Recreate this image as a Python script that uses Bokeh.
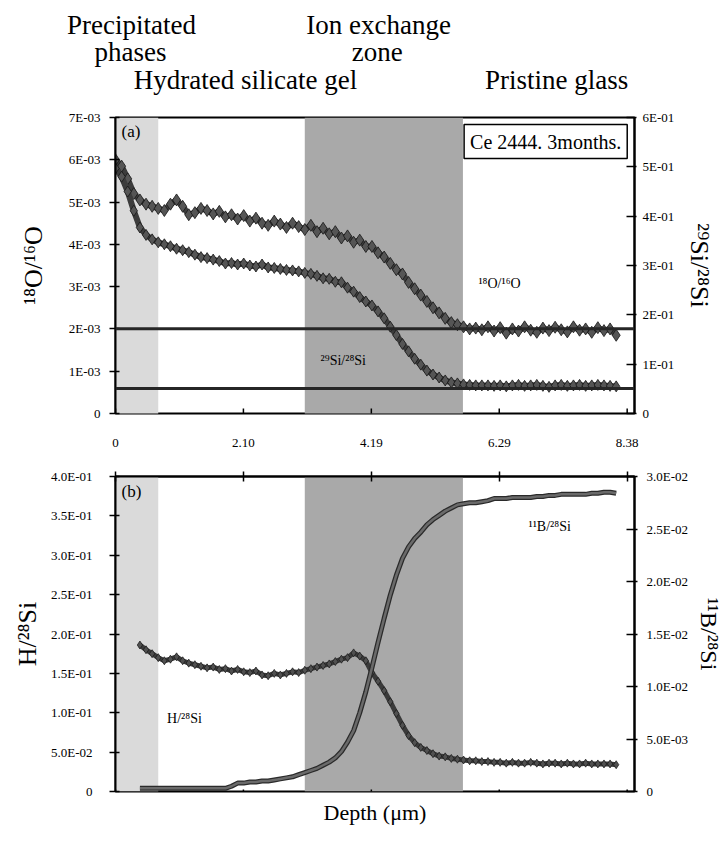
from bokeh.plotting import figure
from bokeh.layouts import column
from bokeh.models import (Range1d, LinearAxis, FixedTicker, BoxAnnotation, Span,
                          Label, ColumnDataSource, Whisker, Title)
from bokeh.core.properties import value
from bokeh.embed import file_html
from bokeh.resources import INLINE

SERIF = "Liberation Serif"

# ---------------- data ----------------
depth_a = [0.0, 0.1, 0.2, 0.3, 0.4, 0.5, 0.6, 0.7, 0.8, 0.9,
           1.0, 1.1, 1.2, 1.3, 1.4, 1.5, 1.6, 1.7, 1.8, 1.9,
           2.0, 2.1, 2.2, 2.3, 2.4, 2.5, 2.6, 2.7, 2.8, 2.9,
           3.0, 3.1, 3.2, 3.3, 3.4, 3.5, 3.6, 3.7, 3.8, 3.9,
           4.0, 4.1, 4.2, 4.3, 4.4, 4.5, 4.6, 4.7, 4.8, 4.9,
           5.0, 5.1, 5.2, 5.3, 5.4, 5.5, 5.6, 5.7, 5.8, 5.9,
           6.0, 6.1, 6.2, 6.3, 6.4, 6.5, 6.6, 6.7, 6.8, 6.9,
           7.0, 7.1, 7.2, 7.3, 7.4, 7.5, 7.6, 7.7, 7.8, 7.9,
           8.0, 8.1, 8.2]

o18_ratio = [6.00e-3, 5.85e-3, 5.55e-3, 5.20e-3, 5.05e-3, 4.95e-3, 4.90e-3, 4.85e-3, 4.80e-3, 4.95e-3,
             5.05e-3, 4.90e-3, 4.70e-3, 4.75e-3, 4.85e-3, 4.80e-3, 4.72e-3, 4.78e-3, 4.65e-3, 4.70e-3,
             4.60e-3, 4.68e-3, 4.55e-3, 4.62e-3, 4.50e-3, 4.45e-3, 4.55e-3, 4.48e-3, 4.40e-3, 4.50e-3,
             4.42e-3, 4.35e-3, 4.45e-3, 4.30e-3, 4.38e-3, 4.25e-3, 4.30e-3, 4.15e-3, 4.20e-3, 4.05e-3,
             4.10e-3, 3.95e-3, 3.95e-3, 3.80e-3, 3.70e-3, 3.55e-3, 3.40e-3, 3.30e-3, 3.10e-3, 2.95e-3,
             2.80e-3, 2.65e-3, 2.50e-3, 2.38e-3, 2.25e-3, 2.15e-3, 2.10e-3, 2.05e-3, 2.00e-3, 2.02e-3,
             1.98e-3, 2.05e-3, 1.95e-3, 2.03e-3, 1.90e-3, 2.00e-3, 1.95e-3, 2.05e-3, 1.97e-3, 1.92e-3,
             2.02e-3, 1.96e-3, 2.04e-3, 1.98e-3, 1.93e-3, 2.05e-3, 1.97e-3, 2.00e-3, 1.92e-3, 2.03e-3,
             1.96e-3, 2.00e-3, 1.85e-3]

si29_ratio = [0.497, 0.480, 0.450, 0.411, 0.377, 0.362, 0.353, 0.347, 0.343, 0.339,
              0.334, 0.331, 0.327, 0.322, 0.317, 0.315, 0.312, 0.309, 0.304, 0.305,
              0.302, 0.304, 0.300, 0.298, 0.302, 0.296, 0.295, 0.293, 0.291, 0.290,
              0.288, 0.285, 0.283, 0.279, 0.274, 0.273, 0.267, 0.266, 0.255, 0.247,
              0.236, 0.227, 0.219, 0.207, 0.193, 0.176, 0.159, 0.141, 0.126, 0.111,
              0.099, 0.087, 0.079, 0.073, 0.067, 0.063, 0.061, 0.059, 0.058, 0.057,
              0.057, 0.057, 0.056, 0.057, 0.055, 0.057, 0.058, 0.056, 0.057, 0.058,
              0.056, 0.054, 0.057, 0.058, 0.056, 0.057, 0.058, 0.056, 0.057, 0.058,
              0.057, 0.056, 0.055]

depth_b = [0.4, 0.5, 0.6, 0.7, 0.8, 0.9,
           1.0, 1.1, 1.2, 1.3, 1.4, 1.5, 1.6, 1.7, 1.8, 1.9,
           2.0, 2.1, 2.2, 2.3, 2.4, 2.5, 2.6, 2.7, 2.8, 2.9,
           3.0, 3.1, 3.2, 3.3, 3.4, 3.5, 3.6, 3.7, 3.8, 3.9,
           4.0, 4.1, 4.2, 4.3, 4.4, 4.5, 4.6, 4.7, 4.8, 4.9,
           5.0, 5.1, 5.2, 5.3, 5.4, 5.5, 5.6, 5.7, 5.8, 5.9,
           6.0, 6.1, 6.2, 6.3, 6.4, 6.5, 6.6, 6.7, 6.8, 6.9,
           7.0, 7.1, 7.2, 7.3, 7.4, 7.5, 7.6, 7.7, 7.8, 7.9,
           8.0, 8.1, 8.2]

h_ratio = [0.186, 0.180, 0.175, 0.170, 0.166, 0.168,
           0.171, 0.166, 0.163, 0.161, 0.159, 0.157, 0.158, 0.155, 0.156, 0.153,
           0.155, 0.152, 0.151, 0.153, 0.148, 0.147, 0.150, 0.148, 0.150, 0.152,
           0.151, 0.154, 0.156, 0.158, 0.160, 0.162, 0.165, 0.168, 0.170, 0.176,
           0.172, 0.166, 0.151, 0.140, 0.128, 0.114, 0.099, 0.084, 0.071, 0.062,
           0.056, 0.052, 0.048, 0.045, 0.044, 0.042, 0.041, 0.040, 0.039, 0.039,
           0.038, 0.038, 0.037, 0.037, 0.036, 0.037, 0.036, 0.036, 0.037, 0.036,
           0.035, 0.036, 0.036, 0.035, 0.036, 0.035, 0.035, 0.036, 0.035, 0.035,
           0.035, 0.035, 0.034]

b_ratio = [0.0003, 0.0003, 0.0003, 0.0003, 0.0003, 0.0003,
           0.0003, 0.0003, 0.0003, 0.0003, 0.0003, 0.0003, 0.0003, 0.0003, 0.0003, 0.0005,
           0.0008, 0.0008, 0.0009, 0.0009, 0.0010, 0.0010, 0.0011, 0.0012, 0.0013, 0.0014,
           0.0016, 0.0018, 0.0020, 0.0022, 0.0025, 0.0028, 0.0032, 0.0038, 0.0047, 0.0058,
           0.0075, 0.0095, 0.0118, 0.0142, 0.0165, 0.0187, 0.0206, 0.0222, 0.0233, 0.0241,
           0.0247, 0.0254, 0.0259, 0.0263, 0.0267, 0.0270, 0.0273, 0.0274, 0.0275, 0.0275,
           0.0276, 0.0277, 0.0279, 0.0279, 0.0279, 0.0280, 0.0280, 0.0280, 0.0280, 0.0281,
           0.0281, 0.0282, 0.0282, 0.0283, 0.0283, 0.0283, 0.0283, 0.0283, 0.0284, 0.0284,
           0.0285, 0.0285, 0.0284]

o18_natural = 2.005e-3
si29_natural = 0.0508

precip_zone = (0.0, 0.70)
ion_zone = (3.10, 5.69)

depth_ticks = [0, 2.095, 4.19, 6.285, 8.38]
depth_tick_labels = ["0", "2.10", "4.19", "6.29", "8.38"]

o18_ticks = [0, 0.001, 0.002, 0.003, 0.004, 0.005, 0.006, 0.007]
o18_tick_labels = ["0", "1E-03", "2E-03", "3E-03", "4E-03", "5E-03", "6E-03", "7E-03"]
si29_ticks = [0, 0.1, 0.2, 0.3, 0.4, 0.5, 0.6]
si29_tick_labels = ["0", "1E-01", "2E-01", "3E-01", "4E-01", "5E-01", "6E-01"]
h_ticks = [0, 0.05, 0.1, 0.15, 0.2, 0.25, 0.3, 0.35, 0.4]
h_tick_labels = ["0", "5.0E-02", "1.0E-01", "1.5E-01", "2.0E-01", "2.5E-01",
                 "3.0E-01", "3.5E-01", "4.0E-01"]
b_ticks = [0, 0.005, 0.01, 0.015, 0.02, 0.025, 0.03]
b_tick_labels = ["0", "5.0E-03", "1.0E-02", "1.5E-02", "2.0E-02", "2.5E-02", "3.0E-02"]

zone_titles = ["Precipitated", "phases", "Ion exchange", "zone",
               "Hydrated silicate gel", "Pristine glass"]

# ---------------- layout constants ----------------
W = 725
LB, RB = 115, 90
X_END = 8.5
PX = (W - LB - RB) / X_END
HDR_H = 108
A_FRAME = 296
B_FRAME = 315

LIGHT_BAND = "#dadada"
DARK_BAND = "#a9a9a9"


def style_axis(ax, ticks, labels, tin, tout, standoff, size="13px"):
    ax.ticker = FixedTicker(ticks=ticks)
    ax.major_label_overrides = dict(zip(ticks, labels))
    ax.minor_tick_line_color = None
    ax.major_tick_in = tin
    ax.major_tick_out = tout
    ax.major_tick_line_width = 1.5
    ax.major_tick_line_color = "black"
    ax.axis_line_width = 2
    ax.axis_line_color = "black"
    ax.major_label_text_font = SERIF
    ax.major_label_text_font_size = size
    ax.major_label_standoff = standoff
    ax.major_label_text_color = "black"
    ax.axis_label_text_font = SERIF
    ax.axis_label_text_font_style = "normal"
    ax.axis_label_text_color = "black"


def no_grid(p):
    p.xgrid.visible = False
    p.ygrid.visible = False


# ---------------- header (zone names) ----------------
hdr = figure(width=W, height=HDR_H, x_range=Range1d(-LB / PX, X_END + RB / PX),
             y_range=Range1d(0, HDR_H), toolbar_location=None, output_backend="svg",
             min_border=0, min_border_left=0, min_border_right=0,
             min_border_top=0, min_border_bottom=0,
             x_axis_location=None, y_axis_location=None, outline_line_color=None)
hdr.frame_align = False
no_grid(hdr)
hdr_x = [0.26, 0.245, 4.30, 4.28, 2.125, 7.21]
hdr_y = [84, 57, 84, 57, 29, 29]
hdr.text(x=hdr_x, y=hdr_y, text=zone_titles, text_font=value(SERIF), text_font_size="27px",
         text_align="center", text_baseline="middle", text_color="black")

# ---------------- panel (a) ----------------
pa = figure(width=W, height=9 + A_FRAME + 8, x_range=Range1d(0, X_END),
            y_range=Range1d(0, 0.007),
            toolbar_location=None, output_backend="svg", x_axis_location=None,
            min_border_left=LB, min_border_right=RB, min_border_top=9, min_border_bottom=8,
            outline_line_color="black", outline_line_width=2)
no_grid(pa)
pa.extra_y_ranges = {"r": Range1d(0, 0.6)}

for zone, col in ((precip_zone, LIGHT_BAND), (ion_zone, DARK_BAND)):
    pa.add_layout(BoxAnnotation(left=zone[0], right=zone[1], bottom=-0.001,
                                fill_color=col, fill_alpha=1, line_color=None,
                                level="underlay"))

ya = pa.yaxis[0]
style_axis(ya, o18_ticks, o18_tick_labels, 4, 6, 9)
ya.axis_label = "¹⁸O/¹⁶O"
ya.axis_label_text_font_size = "26px"
ya.axis_label_standoff = 18

yar = LinearAxis(y_range_name="r")
style_axis(yar, si29_ticks, si29_tick_labels, 8, 2, 6)
yar.axis_label = "²⁹Si/²⁸Si"
yar.axis_label_text_font_size = "26px"
yar.axis_label_standoff = 8
pa.add_layout(yar, "right")

# depth ticks on the bottom edge of panel (a)
a_tick = 5 * 0.007 / A_FRAME
pa.add_layout(Whisker(source=ColumnDataSource(dict(x=depth_ticks,
                                                   lo=[-a_tick] * len(depth_ticks),
                                                   hi=[a_tick] * len(depth_ticks))),
                      base="x", lower="lo", upper="hi", dimension="height",
                      lower_head=None, upper_head=None, line_color="black", line_width=1.5))

src_a = ColumnDataSource(dict(depth=depth_a, o18=o18_ratio, si29=si29_ratio))
pa.add_layout(Span(location=o18_natural, dimension="width", line_color="#262626", line_width=3))
pa.add_layout(Span(location=si29_natural, dimension="width", y_range_name="r",
                   line_color="#262626", line_width=3))

pa.line("depth", "o18", source=src_a, line_width=6, line_color="#3c3c3c")
pa.scatter("depth", "o18", source=src_a, marker="diamond", size=12,
           fill_color="#555555", line_color="#151515", line_width=0.8)
pa.line("depth", "si29", source=src_a, y_range_name="r", line_width=6, line_color="#3c3c3c")
pa.scatter("depth", "si29", source=src_a, y_range_name="r", marker="diamond", size=11,
           fill_color="#555555", line_color="#151515", line_width=0.8)

pa.text(x=[0.1], y=[6.67e-3], text=["(a)"], text_font=value(SERIF), text_font_size="17px",
        text_align="left", text_baseline="middle", text_color="black")
pa.text(x=[6.29, 3.73], y=[3.07e-3, 1.25e-3], text=["¹⁸O/¹⁶O", "²⁹Si/²⁸Si"],
        text_font=value(SERIF), text_font_size="14px", text_align="center",
        text_baseline="middle", text_color="black")
pa.add_layout(Label(x=7.045, y=6.43e-3, text="Ce 2444. 3months.", text_font=SERIF,
                    text_font_size="20px", text_align="center", text_baseline="middle",
                    text_color="black", border_line_color="black", border_line_width=1.5,
                    background_fill_color="white", padding=6))

# ---------------- panel (b) ----------------
pb = figure(width=W, height=55 + B_FRAME + 45, x_range=pa.x_range, y_range=Range1d(0, 0.4),
            toolbar_location=None, output_backend="svg", x_axis_location="above",
            min_border_left=LB, min_border_right=RB, min_border_top=55, min_border_bottom=45,
            outline_line_color="black", outline_line_width=2)
no_grid(pb)
pb.extra_y_ranges = {"r": Range1d(0, 0.03)}

for zone, col in ((precip_zone, LIGHT_BAND), (ion_zone, DARK_BAND)):
    pb.add_layout(BoxAnnotation(left=zone[0], right=zone[1], top=0.6,
                                fill_color=col, fill_alpha=1, line_color=None,
                                level="underlay"))

xb = pb.xaxis[0]
style_axis(xb, depth_ticks, depth_tick_labels, 5, 5, 25)

yb = pb.yaxis[0]
style_axis(yb, h_ticks, h_tick_labels, 4, 6, 17)
yb.axis_label = "H/²⁸Si"
yb.axis_label_text_font_size = "26px"
yb.axis_label_standoff = 6

ybr = LinearAxis(y_range_name="r")
style_axis(ybr, b_ticks, b_tick_labels, 8, 3, 9)
ybr.axis_label = "¹¹B/²⁸Si"
ybr.axis_label_text_font_size = "24px"
ybr.axis_label_standoff = 5
pb.add_layout(ybr, "right")

# depth ticks on the bottom edge of panel (b)
b_lo = 6 * 0.4 / B_FRAME
b_hi = 2 * 0.4 / B_FRAME
pb.add_layout(Whisker(source=ColumnDataSource(dict(x=depth_ticks,
                                                   lo=[-b_lo] * len(depth_ticks),
                                                   hi=[b_hi] * len(depth_ticks))),
                      base="x", lower="lo", upper="hi", dimension="height",
                      lower_head=None, upper_head=None, line_color="black", line_width=1.5))

pb.add_layout(Title(text="Depth (μm)", align="center", text_font=SERIF,
                    text_font_size="22px", text_font_style="normal", text_color="black",
                    standoff=12), "below")

src_b = ColumnDataSource(dict(depth=depth_b, h=h_ratio, b=b_ratio))
pb.line("depth", "h", source=src_b, line_width=5, line_color="#3a3a3a")
pb.scatter("depth", "h", source=src_b, marker="diamond", size=8,
           fill_color="#505050", line_color="#151515", line_width=0.7)
pb.line("depth", "b", source=src_b, y_range_name="r", line_width=5, line_color="#2a2a2a")
pb.line("depth", "b", source=src_b, y_range_name="r", line_width=2.5, line_color="#6a6a6a")

pb.text(x=[0.1], y=[0.381], text=["(b)"], text_font=value(SERIF), text_font_size="17px",
        text_align="left", text_baseline="middle", text_color="black")
pb.text(x=[1.13, 7.11], y=[0.0924, 0.3367], text=["H/²⁸Si", "¹¹B/²⁸Si"],
        text_font=value(SERIF), text_font_size="14px", text_align="center",
        text_baseline="middle", text_color="black")

layout = column(hdr, pa, pb)
open("out.html", "w").write(file_html(layout, INLINE))
